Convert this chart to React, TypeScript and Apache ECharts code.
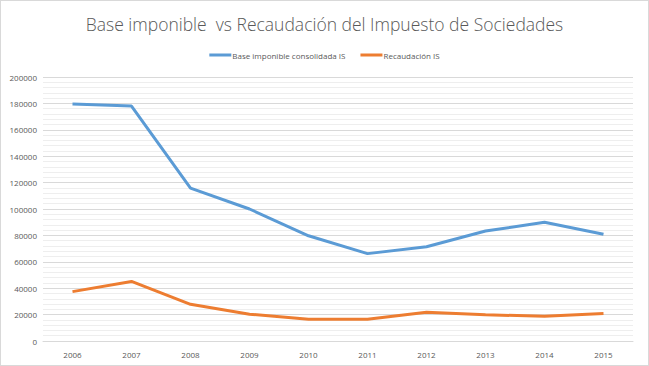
import React, { useEffect, useRef } from "react";
import * as echarts from "echarts";

const years = ["2006", "2007", "2008", "2009", "2010", "2011", "2012", "2013", "2014", "2015"];
const baseImponible = [179500, 178000, 115800, 100000, 79700, 66200, 71400, 83300, 89900, 80800];
const recaudacion = [37400, 45100, 27800, 20300, 16500, 16500, 21700, 19800, 18800, 20900];
const seriesNames = ["Base imponible consolidada IS", "Recaudación IS"];
const title = "Base imponible  vs Recaudación del Impuesto de Sociedades";

export default function App() {
  const ref = useRef<HTMLDivElement>(null);
  useEffect(() => {
    if (!ref.current) return;
    const chart = echarts.init(ref.current, null, { renderer: "svg" });
    const font = "'Open Sans', 'Noto Sans', sans-serif";
    chart.setOption({
      animation: false,
      backgroundColor: "#ffffff",
      title: {
        text: title,
        left: "center",
        top: 9,
        textStyle: { fontFamily: font, fontSize: 17.5, fontWeight: 300, color: "#595959" },
      },
      legend: {
        top: 45,
        left: "center",
        itemWidth: 22,
        itemHeight: 3,
        itemGap: 15,
        icon: "rect",
        textStyle: { fontFamily: font, fontSize: 8, color: "#595959", padding: [0, 0, 0, -4] },
        data: seriesNames,
      },
      grid: { left: 42, right: 15, top: 76, bottom: 24, containLabel: false },
      xAxis: {
        type: "category",
        data: years,
        boundaryGap: true,
        axisLine: { lineStyle: { color: "#d9d9d9" } },
        axisTick: { show: false },
        axisLabel: { fontFamily: font, fontSize: 8, color: "#595959", margin: 9 },
      },
      yAxis: {
        type: "value",
        min: 0,
        max: 200000,
        interval: 20000,
        axisLine: { show: false },
        axisTick: { show: false },
        axisLabel: {
          fontFamily: font,
          fontSize: 8,
          color: "#595959",
          margin: 6,
          formatter: (v: number) => String(v),
        },
        splitLine: { lineStyle: { color: "#d9d9d9", width: 1 } },
        minorTick: { show: false, splitNumber: 5 },
        minorSplitLine: { show: true, lineStyle: { color: "#eeeeee", width: 1 } },
      },
      series: [
        {
          name: seriesNames[0],
          type: "line",
          data: baseImponible,
          symbol: "none",
          lineStyle: { color: "#5b9bd5", width: 3 },
          itemStyle: { color: "#5b9bd5" },
        },
        {
          name: seriesNames[1],
          type: "line",
          data: recaudacion,
          symbol: "none",
          lineStyle: { color: "#ed7d31", width: 3 },
          itemStyle: { color: "#ed7d31" },
        },
      ],
    });
    return () => chart.dispose();
  }, []);
  return (
    <div
      style={{
        position: "fixed",
        left: 0,
        top: 0,
        width: 649,
        height: 366,
        boxSizing: "border-box",
        border: "1px solid #d9d9d9",
        background: "#fff",
      }}
    >
      <div ref={ref} style={{ width: 647, height: 364 }} />
    </div>
  );
}
